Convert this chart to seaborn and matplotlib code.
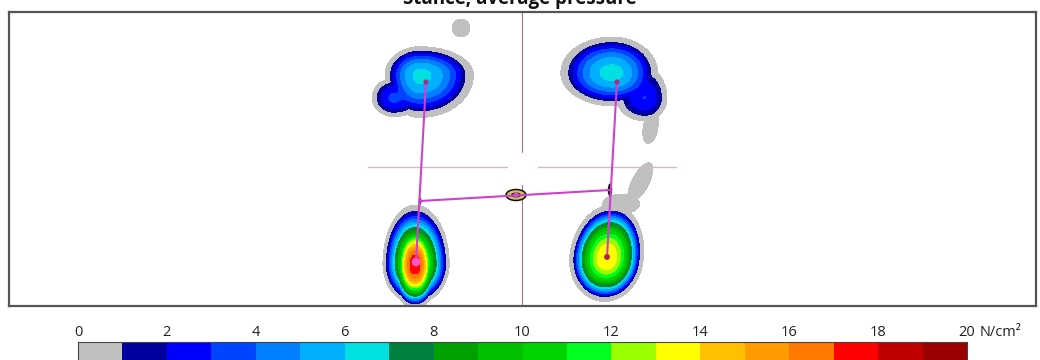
import numpy as np
import pandas as pd
import matplotlib
matplotlib.use("Agg")
import matplotlib.pyplot as plt
from matplotlib.colors import ListedColormap
from matplotlib.patches import Ellipse
import seaborn as sns

# ---------------- data ----------------
# colour scale (N/cm^2): 20 one-unit bins from 0 to 20
bin_edges = [0, 1, 2, 3, 4, 5, 6, 7, 8, 9, 10, 11, 12, 13, 14, 15, 16, 17, 18, 19, 20]
bin_colors = ["#c0c0c0", "#00009c", "#0000ff", "#0044ff", "#0080ff", "#00b0ff",
              "#00e0e0", "#008040", "#00a000", "#00c000", "#00d400", "#00ff20",
              "#99ff00", "#ffff00", "#ffc000", "#ff9a00", "#ff7800", "#ff0000",
              "#c00000", "#9a0000"]
scale_ticks = [0, 2, 4, 6, 8, 10, 12, 14, 16, 18, 20]
unit_label = "N/cm\u00b2"

# pressure regions (sensor coordinates, y downwards)
region_name = ["L fore", "L fore lobe", "R fore", "R fore lobe", "R fore tail",
               "L heel", "L heel core", "R heel", "R heel tail", "R heel tail base", "spot"]
region_group = [0, 0, 1, 1, 1, 2, 3, 4, 4, 4, 5]
region_x = [420, 394, 612, 645, 650, 415, 415, 607, 640, 622, 461]
region_y = [75, 98, 73, 98, 128, 264, 265, 258, 182, 204, 28]
region_r_left = [32, 20, 47, 26, 7, 30, 22, 34, 8, 20, 9]
region_r_right = [49, 26, 42, 20, 8, 32, 22, 33, 9, 18, 9]
region_r_up = [26, 18, 33, 28, 22, 55, 44, 49, 22, 10, 9]
region_r_down = [39, 17, 30, 21, 16, 37, 40, 40, 22, 10, 9]
region_tilt = [0, 0, 0, 0, 10, 0, 0, 10, 28, 0, 0]
region_peak = [6.3, 3.2, 6.4, 3.0, 0.8, 17.8, 17.9, 13.9, 0.8, 0.8, 0.8]
region_shape = [2.0, 2.0, 2.0, 2.0, 2.0, 1.2, 2.0, 2.2, 2.0, 2.0, 2.0]

# centre-of-pressure points
cop_left_x = [426, 416]
cop_left_y = [82, 262]
cop_right_x = [617, 607]
cop_right_y = [82, 257]
cop_cross_x = [420, 516, 610]
cop_cross_y = [201, 195, 190]

# reference cross lines
cross_v_x = 522
cross_v_segments = [(12, 152), (185, 306)]
cross_h_y = 167
cross_h_segments = [(368, 507), (538, 676)]

# ---------------- figure ----------------
sns.set_theme(style="white")
plt.rcParams['font.family'] = ['Open Sans', 'DejaVu Sans']

W, H = 1040, 360
fig = plt.figure(figsize=(W / 100, H / 100), dpi=100)
ax = fig.add_axes([9 / W, (H - 306) / H, 1027 / W, 294 / H])

xs = np.arange(9, 1037, 0.5)
ys = np.arange(12, 307, 0.5)
X, Y = np.meshgrid(xs, ys)
k = 4.0
halo_scale, halo_level = 1.12, 0.9
group_acc = {}


def cone(i, scale, peak):
    th = np.deg2rad(region_tilt[i])
    dx, dy = X - region_x[i], Y - region_y[i]
    u = dx * np.cos(th) + dy * np.sin(th)
    w = -dx * np.sin(th) + dy * np.cos(th)
    rx = np.where(u < 0, region_r_left[i], region_r_right[i]) * scale
    ry = np.where(w < 0, region_r_up[i], region_r_down[i]) * scale
    rho = np.sqrt((u / rx) ** 2 + (w / ry) ** 2)
    return peak * np.clip(1 - rho ** region_shape[i], 0, None)


for i in range(len(region_name)):
    g = region_group[i]
    comp = cone(i, 1.0, region_peak[i])
    acc = group_acc.get(g, 0) + comp ** k
    if region_peak[i] > 1:
        acc = acc + cone(i, halo_scale, halo_level) ** k
    group_acc[g] = acc
field = np.zeros_like(X)
for g, acc in group_acc.items():
    field = np.maximum(field, acc ** (1 / k))

levels = [0.05] + bin_edges[1:]
ax.contourf(X, Y, field, levels=levels, colors=bin_colors, zorder=1)

# cross lines
for (a, b) in cross_v_segments:
    ax.plot([cross_v_x, cross_v_x], [a, b], color="#a07c7c", lw=0.8, zorder=2)
for (a, b) in cross_h_segments:
    ax.plot([a, b], [cross_h_y, cross_h_y], color="#d8b8b8", lw=1.0, zorder=2)

# CoP lines
mag = "#d040d0"
lines = pd.DataFrame({
    "x": cop_left_x + cop_right_x + [cop_cross_x[0], cop_cross_x[-1]],
    "y": cop_left_y + cop_right_y + [cop_cross_y[0], cop_cross_y[-1]],
    "seg": ["L", "L", "R", "R", "C", "C"],
})
sns.lineplot(data=lines, x="x", y="y", units="seg", estimator=None, sort=False,
             color=mag, lw=1.5, ax=ax, zorder=4)

# centre marker
ax.add_patch(Ellipse((cop_cross_x[1], cop_cross_y[1]), 20, 11, facecolor="#cfc060",
                     edgecolor="#111111", lw=1.1, zorder=3))
ax.add_patch(Ellipse((cop_cross_x[1], cop_cross_y[1]), 10, 5, facecolor="#302010",
                     edgecolor="none", zorder=3))
ax.add_patch(Ellipse((cop_cross_x[2], cop_cross_y[2]), 4.5, 13, facecolor="#151515",
                     edgecolor="none", zorder=3))
ax.add_patch(Ellipse((cop_cross_x[0], cop_cross_y[0]), 3, 8, facecolor="#703070",
                     edgecolor="none", zorder=3))

pts = pd.DataFrame({
    "x": [cop_left_x[0], cop_right_x[0], cop_left_x[1], cop_right_x[1], cop_cross_x[1]],
    "y": [cop_left_y[0], cop_right_y[0], cop_left_y[1], cop_right_y[1], cop_cross_y[1]],
})
sizes = [14, 14, 40, 18, 14]
cols = ["#a03080", "#a03080", "#ff55c8", "#b02050", "#d04fd0"]
sns.scatterplot(data=pts, x="x", y="y", s=sizes, c=cols, edgecolor="none",
                ax=ax, zorder=5, legend=False)

ax.set_xlim(9, 1036)
ax.set_ylim(306, 12)
ax.set_xticks([])
ax.set_yticks([])
ax.set_xlabel("")
ax.set_ylabel("")
for s in ax.spines.values():
    s.set_visible(True)
    s.set_color("#555555")
    s.set_linewidth(1.6)

fig.text(0.5, 1 - 4 / H, "Stance, average pressure", ha="center", va="baseline",
         fontsize=13.5, fontweight="bold", color="#111111")

# colour bar
cax = fig.add_axes([78 / W, -3 / H, 889 / W, 21 / H])
mids = np.array([[(bin_edges[i] + bin_edges[i + 1]) / 2 for i in range(len(bin_edges) - 1)]])
sns.heatmap(mids, cmap=ListedColormap(bin_colors), vmin=0, vmax=20, cbar=False,
            xticklabels=False, yticklabels=False, ax=cax)
cax.xaxis.tick_top()
cax.set_xticks(scale_ticks)
cax.set_xticklabels([str(t) for t in scale_ticks], fontsize=10.5, color="#222222")
cax.tick_params(axis="x", length=0, pad=1.5)
cax.set_yticks([])
for s in cax.spines.values():
    s.set_visible(True)
    s.set_color("#444444")
    s.set_linewidth(0.8)
fig.text(980 / W, (H - 340.5) / H, unit_label, ha="left", va="bottom",
         fontsize=10.5, color="#222222")

fig.savefig("out.png", dpi=100, facecolor="white")
